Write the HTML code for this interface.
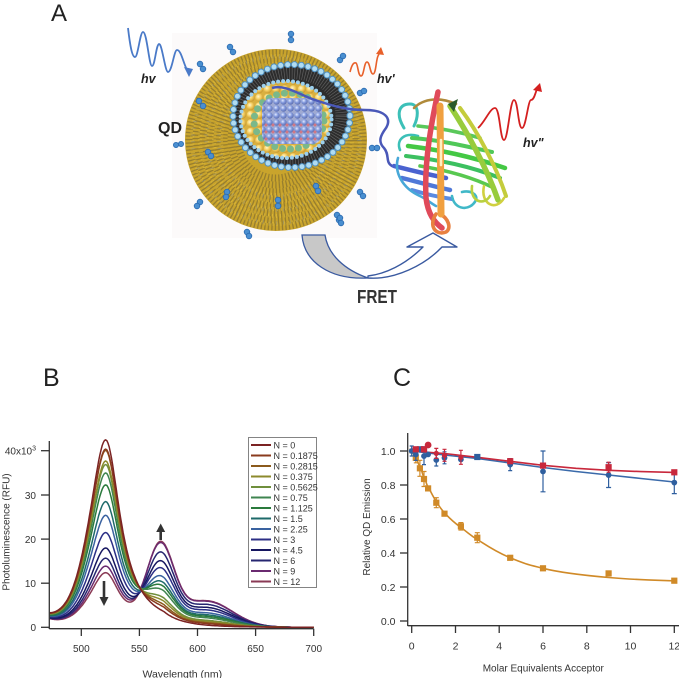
<!DOCTYPE html>
<html><head><meta charset="utf-8"><style>
html,body{margin:0;padding:0;background:#fff;}
svg{display:block;}
text{font-family:"Liberation Sans",Arial,sans-serif;}
</style></head><body>
<svg width="679" height="678" viewBox="0 0 679 678" xmlns="http://www.w3.org/2000/svg">
<defs>
<radialGradient id="yg" cx=".38" cy=".35" r=".65"><stop offset="0" stop-color="#fff6cc"/><stop offset=".5" stop-color="#f5cf62"/><stop offset="1" stop-color="#c99a30"/></radialGradient>
<radialGradient id="bgr" cx=".38" cy=".35" r=".65"><stop offset="0" stop-color="#dde6ff"/><stop offset=".5" stop-color="#6a86d8"/><stop offset="1" stop-color="#3a50a0"/></radialGradient>
<pattern id="yel" width="8.5" height="8.5" patternUnits="userSpaceOnUse"><rect width="8.5" height="8.5" fill="#d9b040"/><circle cx="4.25" cy="4.25" r="4" fill="url(#yg)"/></pattern>
<pattern id="blu" width="7" height="7" patternUnits="userSpaceOnUse"><rect width="7" height="7" fill="#8a98c8"/><circle cx="3.5" cy="3.5" r="3.2" fill="url(#bgr)"/></pattern>
</defs>

<!-- ================= PANEL A ================= -->
<text x="51" y="21" font-size="24" fill="#222">A</text>
<rect x="172" y="33" width="205" height="205" fill="#fcfafa"/>

<!-- golden sphere -->
<circle cx="276" cy="140" r="91" fill="#c9a42c"/>
<g fill="none">
<g stroke="#6f6030" stroke-width="7" stroke-dasharray="1.3 2.2" opacity=".55">
<circle cx="276" cy="140" r="87"/><circle cx="276" cy="140" r="80"/><circle cx="276" cy="140" r="73"/><circle cx="276" cy="140" r="66"/><circle cx="276" cy="140" r="59"/><circle cx="276" cy="140" r="52"/><circle cx="276" cy="140" r="45"/><circle cx="276" cy="140" r="38"/>
</g>
<g stroke="#e8c440" stroke-width="4" stroke-dasharray="1 3" stroke-dashoffset="1.6" opacity=".5">
<circle cx="276" cy="140" r="84"/><circle cx="276" cy="140" r="76"/><circle cx="276" cy="140" r="69"/><circle cx="276" cy="140" r="62"/><circle cx="276" cy="140" r="55"/>
</g>
<g stroke="#7a8aa0" stroke-width="4" stroke-dasharray="0.8 6" opacity=".45">
<circle cx="276" cy="140" r="83"/><circle cx="276" cy="140" r="70"/><circle cx="276" cy="140" r="57"/>
</g>
</g>

<!-- ligands -->
<g stroke="#2a6ab0" stroke-width="0.8" fill="#4a8fd0">
<circle cx="291" cy="40" r="2.8"/><circle cx="291" cy="34" r="2.8"/>
<circle cx="233" cy="52" r="2.8"/><circle cx="230" cy="47" r="2.8"/>
<circle cx="203" cy="69" r="2.8"/><circle cx="200" cy="64" r="2.8"/>
<circle cx="199" cy="101" r="2.8"/><circle cx="203" cy="106" r="2.8"/>
<circle cx="176" cy="145" r="2.6"/><circle cx="181" cy="144" r="2.6"/>
<circle cx="208" cy="152" r="2.8"/><circle cx="211" cy="156" r="2.8"/>
<circle cx="200" cy="202" r="2.8"/><circle cx="197" cy="206" r="2.8"/>
<circle cx="247" cy="232" r="2.8"/><circle cx="249" cy="236" r="2.8"/>
<circle cx="278" cy="200" r="2.8"/><circle cx="278" cy="206" r="2.8"/>
<circle cx="316" cy="186" r="2.8"/><circle cx="318" cy="191" r="2.8"/>
<circle cx="337" cy="215" r="2.8"/><circle cx="339" cy="220" r="2.8"/>
<circle cx="227" cy="192" r="2.8"/><circle cx="226" cy="197" r="2.8"/>
<circle cx="340" cy="60" r="2.8"/><circle cx="343" cy="56" r="2.8"/>
<circle cx="360" cy="93" r="2.8"/><circle cx="364" cy="91" r="2.8"/>
<circle cx="372" cy="148" r="2.8"/><circle cx="377" cy="148" r="2.8"/>
<circle cx="360" cy="192" r="2.8"/><circle cx="363" cy="196" r="2.8"/>
<circle cx="340" cy="218" r="2.8"/><circle cx="341" cy="223" r="2.8"/>
</g>

<!-- dark hairy ring -->
<ellipse cx="291.5" cy="116" rx="57" ry="50" fill="#2c2c2c"/>
<ellipse cx="291.5" cy="116" rx="51" ry="44" fill="none" stroke="#a0a0a0" stroke-width="14" stroke-dasharray="0.7 2" opacity=".45"/>
<ellipse cx="291.5" cy="116" rx="58.5" ry="51.5" fill="none" stroke="#4f8fc0" stroke-width="7" stroke-dasharray="0 6.9" stroke-linecap="round"/>
<ellipse cx="291.5" cy="116" rx="58.5" ry="51.5" fill="none" stroke="#b0dcf2" stroke-width="5" stroke-dasharray="0 6.9" stroke-linecap="round"/>

<!-- core -->
<ellipse cx="286" cy="119.5" rx="45" ry="38" fill="url(#yel)"/>
<ellipse cx="286" cy="119.5" rx="45.5" ry="38.5" fill="none" stroke="#9cd0ee" stroke-width="4" stroke-dasharray="0 5" stroke-linecap="round"/>
<ellipse cx="289" cy="121" rx="35" ry="28" fill="none" stroke="#7ab88a" stroke-width="7" stroke-dasharray="0 8" stroke-linecap="round"/>
<rect x="262" y="98" width="60" height="46" rx="10" fill="url(#blu)"/>
<g stroke="#c85a6a" stroke-width="3" stroke-dasharray="0 7" stroke-linecap="round">
<line x1="266" y1="125" x2="318" y2="125"/><line x1="266" y1="132" x2="318" y2="132"/><line x1="266" y1="139" x2="316" y2="139"/>
</g>
<rect x="262" y="98" width="60" height="46" rx="10" fill="#ffffff" opacity=".18"/>

<!-- linker -->
<path d="M272,88 C285,84 300,95 315,100 C330,105 345,110 365,110 C385,110 392,118 386,128 C380,136 378,142 384,148 C390,155 385,162 392,166 C396,168 400,168 404,168" fill="none" stroke="#4a58b8" stroke-width="2.5"/>

<!-- protein -->
<g fill="none" stroke-linecap="round" stroke-linejoin="round">
<path d="M404,128 C396,115 398,104 410,104 C420,104 418,118 414,126" stroke="#3cc0b8" stroke-width="3"/>
<path d="M414,108 C424,98 440,97 456,104" stroke="#b08a3a" stroke-width="2.6"/>
<path d="M400,150 C396,140 404,132 418,136" stroke="#3cc0b8" stroke-width="2.6"/>
<path d="M394,166 C410,170 425,174 446,178" stroke="#4a62d0" stroke-width="4.5"/>
<path d="M402,178 C418,182 432,186 450,190" stroke="#4f78d8" stroke-width="4.5"/>
<path d="M412,190 C425,194 438,197 452,199" stroke="#5a8ae0" stroke-width="4"/>
<path d="M398,158 C394,172 402,188 420,196 C428,200 432,204 436,206" stroke="#48a8d8" stroke-width="2.6"/>
<path d="M408,146 C440,150 470,156 505,168" stroke="#44c844" stroke-width="4.5"/>
<path d="M412,138 C440,140 465,146 492,152" stroke="#50c858" stroke-width="4"/>
<path d="M406,156 C440,160 470,166 500,178" stroke="#3cc060" stroke-width="4"/>
<path d="M420,166 C445,170 470,176 494,188" stroke="#58c850" stroke-width="3.6"/>
<path d="M418,126 C440,128 460,132 480,138" stroke="#5ac85a" stroke-width="3.6"/>
<path d="M452,196 C454,210 470,212 476,200 C478,194 470,190 462,192" stroke="#40b8c8" stroke-width="2.6"/>
<path d="M450,106 C466,130 486,166 498,200" stroke="#98cc3c" stroke-width="5.5"/>
<path d="M460,108 C478,132 496,166 506,196" stroke="#c4cc3c" stroke-width="4"/>
<path d="M484,186 C480,204 496,212 504,198" stroke="#d0d040" stroke-width="2.6"/>
<path d="M472,186 C470,202 484,206 490,196" stroke="#b8d040" stroke-width="2.6"/>
<path d="M438,92 C432,120 424,160 426,198 C428,214 434,222 442,228" stroke="#e04a5a" stroke-width="5.5"/>
<path d="M436,214 C428,226 436,236 446,232 C452,228 448,218 440,214" stroke="#e88040" stroke-width="3.6"/>
<path d="M440,106 L441,214" stroke="#f0a040" stroke-width="7"/>
<path d="M441,140 L441,165" stroke="#fff0c0" stroke-width="2.6"/>
</g>
<polygon points="448,104 458,99 454,112" fill="#2a5a2a"/>

<!-- waves -->
<path d="M128,28 C130,45 132,57 135,57 C138,57 140,32 143,32 C147,32 149,66 152,66 C155,66 156,45 159,44 C162,43 165,72 168,72 C172,72 174,50 177,50 C181,50 183,62 187,70" fill="none" stroke="#4a7ac8" stroke-width="1.8"/>
<polygon points="184,67 193,69 189,77" fill="#4a7ac8"/>
<path d="M350,72 C352,64 354,62 356,63 C358,64 358,76 361,76 C364,76 364,62 367,62 C370,62 370,74 373,74 C376,74 376,60 378,56 L380,52" fill="none" stroke="#e8602a" stroke-width="1.6"/>
<polygon points="376,54 384,55 381,47" fill="#e8602a"/>
<path d="M478,128 C485,122 490,108 495,108 C500,108 500,140 504,140 C508,140 510,100 514,100 C518,100 518,128 522,128 C526,128 528,100 531,100 C534,100 535,94 537,89" fill="none" stroke="#d42020" stroke-width="1.8"/>
<polygon points="533,90 542,92 540,83" fill="#d42020"/>

<text x="141" y="83" font-size="12.5" font-weight="bold" font-style="italic" fill="#222">hv</text>
<text x="377" y="83" font-size="12.5" font-weight="bold" font-style="italic" fill="#222">hv'</text>
<text x="523" y="147" font-size="12.5" font-weight="bold" font-style="italic" fill="#222">hv"</text>
<text x="158" y="133" font-size="16" font-weight="bold" fill="#222" textLength="24" lengthAdjust="spacingAndGlyphs">QD</text>

<!-- FRET arrow -->
<path d="M302,235 C304,262 330,280 368,278 C345,270 328,255 325,235 Z" fill="#c8c8c8" stroke="#3a5aa0" stroke-width="1.3"/>
<path d="M368,278 C395,280 425,265 442,247 L457,247 L433,233 L407,247 L423,247 C405,265 385,274 368,276 Z" fill="#ffffff" stroke="#3a5aa0" stroke-width="1.4" stroke-linejoin="round"/>
<text x="357" y="303" font-size="18" font-weight="bold" fill="#333" textLength="40" lengthAdjust="spacingAndGlyphs">FRET</text>

<!-- ================= PANEL B ================= -->
<text x="43" y="386" font-size="25" fill="#222">B</text>
<g fill="none" stroke-width="1.5" id="curves"></g>

<g stroke="#333" stroke-width="1.3" fill="none">
<line x1="49.3" y1="441" x2="49.3" y2="629"/>
<line x1="49.3" y1="628.7" x2="313.7" y2="628.7"/>
<line x1="41" y1="627.3" x2="49.3" y2="627.3"/>
<line x1="41" y1="583.2" x2="49.3" y2="583.2"/>
<line x1="41" y1="539.1" x2="49.3" y2="539.1"/>
<line x1="41" y1="495" x2="49.3" y2="495"/>
<line x1="41" y1="450.7" x2="49.3" y2="450.7"/>
<line x1="81.3" y1="628.7" x2="81.3" y2="636"/>
<line x1="139.4" y1="628.7" x2="139.4" y2="636"/>
<line x1="197.5" y1="628.7" x2="197.5" y2="636"/>
<line x1="255.6" y1="628.7" x2="255.6" y2="636"/>
<line x1="313.7" y1="628.7" x2="313.7" y2="636"/>
</g>
<g font-size="10" fill="#333" text-anchor="end">
<text x="36" y="631">0</text>
<text x="36" y="587">10</text>
<text x="36" y="543">20</text>
<text x="36" y="499">30</text>
<text x="36" y="454.5">40x10<tspan dy="-4" font-size="7">3</tspan></text>
</g>
<g font-size="10" fill="#333" text-anchor="middle">
<text x="81.3" y="652">500</text>
<text x="139.4" y="652">550</text>
<text x="197.5" y="652">600</text>
<text x="255.6" y="652">650</text>
<text x="313.7" y="652">700</text>
<text x="182.3" y="677.5" font-size="10.5">Wavelength (nm)</text>
<text transform="translate(9.5,532) rotate(-90)" font-size="10">Photoluminescence (RFU)</text>
</g>

<!-- arrows -->
<line x1="104" y1="581" x2="104" y2="599" stroke="#333" stroke-width="2.6"/>
<polygon points="99.5,597 108.5,597 104,606" fill="#333"/>
<line x1="160.7" y1="531" x2="160.7" y2="540" stroke="#333" stroke-width="2.6"/>
<polygon points="156.2,532 165.2,532 160.7,523.5" fill="#333"/>

<!-- legend -->
<rect x="248.5" y="437.5" width="68" height="150" fill="#fff" stroke="#666" stroke-width="0.8"/>
<g stroke-width="2">
<line x1="251" y1="445" x2="271" y2="445" stroke="#7b2323"/>
<line x1="251" y1="455.5" x2="271" y2="455.5" stroke="#8a3b1e"/>
<line x1="251" y1="466" x2="271" y2="466" stroke="#8b5a1c"/>
<line x1="251" y1="476.5" x2="271" y2="476.5" stroke="#8c8a2c"/>
<line x1="251" y1="487" x2="271" y2="487" stroke="#6f8f3c"/>
<line x1="251" y1="497.5" x2="271" y2="497.5" stroke="#3f8550"/>
<line x1="251" y1="508" x2="271" y2="508" stroke="#2a7a3c"/>
<line x1="251" y1="518.5" x2="271" y2="518.5" stroke="#1e6a6a"/>
<line x1="251" y1="529" x2="271" y2="529" stroke="#3a62a0"/>
<line x1="251" y1="539.5" x2="271" y2="539.5" stroke="#2c2f86"/>
<line x1="251" y1="550" x2="271" y2="550" stroke="#161660"/>
<line x1="251" y1="560.5" x2="271" y2="560.5" stroke="#262670"/>
<line x1="251" y1="571" x2="271" y2="571" stroke="#6a2a70"/>
<line x1="251" y1="581.5" x2="271" y2="581.5" stroke="#8a3a55"/>
</g>
<g font-size="9" fill="#333">
<text x="273.5" y="448.3">N = 0</text>
<text x="273.5" y="458.8">N = 0.1875</text>
<text x="273.5" y="469.3">N = 0.2815</text>
<text x="273.5" y="479.8">N = 0.375</text>
<text x="273.5" y="490.3">N = 0.5625</text>
<text x="273.5" y="500.8">N = 0.75</text>
<text x="273.5" y="511.3">N = 1.125</text>
<text x="273.5" y="521.8">N = 1.5</text>
<text x="273.5" y="532.3">N = 2.25</text>
<text x="273.5" y="542.8">N = 3</text>
<text x="273.5" y="553.3">N = 4.5</text>
<text x="273.5" y="563.8">N = 6</text>
<text x="273.5" y="574.3">N = 9</text>
<text x="273.5" y="584.8">N = 12</text>
</g>

<!-- ================= PANEL C ================= -->
<text x="393" y="386" font-size="25" fill="#222">C</text>
<g stroke="#333" stroke-width="1.3" fill="none">
<line x1="407.7" y1="433" x2="407.7" y2="626"/>
<line x1="407.7" y1="625.7" x2="679" y2="625.7"/>
<line x1="400" y1="451" x2="407.7" y2="451"/>
<line x1="400" y1="485" x2="407.7" y2="485"/>
<line x1="400" y1="519" x2="407.7" y2="519"/>
<line x1="400" y1="553" x2="407.7" y2="553"/>
<line x1="400" y1="587" x2="407.7" y2="587"/>
<line x1="400" y1="621" x2="407.7" y2="621"/>
<line x1="411.7" y1="625.7" x2="411.7" y2="633"/>
<line x1="455.5" y1="625.7" x2="455.5" y2="633"/>
<line x1="499.2" y1="625.7" x2="499.2" y2="633"/>
<line x1="543" y1="625.7" x2="543" y2="633"/>
<line x1="586.8" y1="625.7" x2="586.8" y2="633"/>
<line x1="630.5" y1="625.7" x2="630.5" y2="633"/>
<line x1="674.3" y1="625.7" x2="674.3" y2="633"/>
</g>
<g font-size="10.5" fill="#333" text-anchor="end">
<text x="395.5" y="454.8">1.0</text>
<text x="395.5" y="488.8">0.8</text>
<text x="395.5" y="522.8">0.6</text>
<text x="395.5" y="556.8">0.4</text>
<text x="395.5" y="590.8">0.2</text>
<text x="395.5" y="624.8">0.0</text>
</g>
<g font-size="10.5" fill="#333" text-anchor="middle">
<text x="411.7" y="649.5">0</text>
<text x="455.5" y="649.5">2</text>
<text x="499.2" y="649.5">4</text>
<text x="543" y="649.5">6</text>
<text x="586.8" y="649.5">8</text>
<text x="630.5" y="649.5">10</text>
<text x="674.3" y="649.5">12</text>
<text x="543.3" y="671.5" font-size="10">Molar Equivalents Acceptor</text>
<text transform="translate(370,527) rotate(-90)" font-size="10">Relative QD Emission</text>
</g>

<!-- fit curves -->
<path d="M411.7,451 C413,453 414,455 415.8,457.5 S418,464 419.9,466.5 S422,474 424,477 S426,484 428.1,487 S432,495 436.3,501.5 S440,508 444.5,512.8 S452,521 460.9,527.5 S470,535 477.3,539.5 S494,551 510.2,557.8 S530,565 543,568.3 S580,575 608.6,577.5 S650,580 674.3,580.8" fill="none" stroke="#d08a28" stroke-width="1.6"/>
<polyline points="411.7,451 444.5,455 477.3,458.5 510.2,463 543,467.5 576,471.5 608.6,475 641,478.5 674.3,482" fill="none" stroke="#3a6aaa" stroke-width="1.6"/>
<polyline points="411.7,451 444.5,453.5 477.3,457.3 510.2,461.3 543,465.3 576,468.3 608.6,470.3 641,471.6 674.3,472.4" fill="none" stroke="#c8283c" stroke-width="1.6"/>

<!-- orange markers -->
<g stroke="#d08a28" stroke-width="1.2" fill="#d08a28">
<path d="M415.8,452.8V462.8M413.8,452.8H417.8M413.8,462.8H417.8"/>
<path d="M419.9,460.3V476.3M417.4,460.3H422.4M417.4,476.3H422.4"/>
<path d="M424,471.5V486.5M421.5,471.5H426.5M421.5,486.5H426.5"/>
<path d="M436.3,497.7V507.7M433.8,497.7H438.8M433.8,507.7H438.8"/>
<path d="M460.9,522.6V530M458.4,522.6H463.4M458.4,530H463.4"/>
<path d="M477.3,532.7V542.7M474.8,532.7H479.8M474.8,542.7H479.8"/>
<rect x="413.3" y="455.3" width="5" height="5"/>
<rect x="417.4" y="465.8" width="5" height="5"/>
<rect x="421.5" y="476.5" width="5" height="5"/>
<rect x="425.6" y="485.9" width="5" height="5"/>
<rect x="433.8" y="500.2" width="5" height="5"/>
<rect x="442" y="511.2" width="5" height="5"/>
<rect x="458.4" y="523.8" width="5" height="5"/>
<rect x="474.8" y="535.2" width="5" height="5"/>
<rect x="507.7" y="555.3" width="5" height="5"/>
<rect x="540.5" y="565.8" width="5" height="5"/>
<rect x="606.1" y="570.9" width="5" height="5"/>
<rect x="671.8" y="578.2" width="5" height="5"/>
</g>
<rect x="409.2" y="448.5" width="5" height="5" fill="#c8a878"/>

<!-- blue markers -->
<g stroke="#2f5f9f" stroke-width="1.2" fill="#2f5f9f">
<path d="M411.7,446V456M409.7,446H413.7M409.7,456H413.7"/>
<path d="M415.8,448.4V460.4M413.8,448.4H417.8M413.8,460.4H417.8"/>
<path d="M424,447.6V464.6M422,447.6H426M422,464.6H426"/>
<path d="M436.3,454V466M434.3,454H438.3M434.3,466H438.3"/>
<path d="M444.5,451.8V463.8M442.5,451.8H446.5M442.5,463.8H446.5"/>
<path d="M510.2,458.6V470.6M508.2,458.6H512.2M508.2,470.6H512.2"/>
<path d="M543,451V491.8M540.5,451H545.5M540.5,491.8H545.5"/>
<path d="M608.6,462.7V487.5M606.1,462.7H611.1M606.1,487.5H611.1"/>
<path d="M674.3,471.6V493.6M671.8,471.6H676.8M671.8,493.6H676.8"/>
<circle cx="411.7" cy="451" r="2.3"/>
<circle cx="415.8" cy="454.4" r="2.3"/>
<rect x="417.4" y="446.8" width="5" height="5"/>
<rect x="421.5" y="446.8" width="5" height="5"/>
<circle cx="424" cy="456.1" r="2.3"/>
<circle cx="428.1" cy="454.4" r="2.3"/>
<circle cx="436.3" cy="460" r="2.3"/>
<circle cx="444.5" cy="457.8" r="2.3"/>
<circle cx="460.9" cy="459.5" r="2.3"/>
<rect x="474.8" y="454.5" width="5" height="5"/>
<circle cx="510.2" cy="464.6" r="2.3"/>
<circle cx="543" cy="471.4" r="2.3"/>
<circle cx="608.6" cy="475.1" r="2.3"/>
<circle cx="674.3" cy="482.6" r="2.3"/>
</g>

<!-- red markers -->
<g stroke="#c8283c" stroke-width="1.2" fill="#c8283c">
<path d="M436.3,448.4V458.4M434.3,448.4H438.3M434.3,458.4H438.3"/>
<path d="M444.5,449.3V461.3M442.5,449.3H446.5M442.5,461.3H446.5"/>
<path d="M460.9,450.3V464.3M458.9,450.3H462.9M458.9,464.3H462.9"/>
<path d="M608.6,462.2V472.2M606.6,462.2H610.6M606.6,472.2H610.6"/>
<rect x="413.3" y="446.8" width="5" height="5"/>
<rect x="421.5" y="446.8" width="5" height="5"/>
<circle cx="428.1" cy="445" r="2.8"/>
<circle cx="436.3" cy="453.4" r="2"/>
<circle cx="444.5" cy="455.3" r="2"/>
<circle cx="460.9" cy="457.3" r="2"/>
<rect x="507.7" y="458.7" width="5" height="5"/>
<rect x="540.5" y="463.1" width="5" height="5"/>
<rect x="606.1" y="464.7" width="5" height="5"/>
<rect x="671.8" y="469.8" width="5" height="5"/>
</g>
</svg>
<script>
(function(){
var Q=[42.4,40.3,40.0,37.6,36.8,34.9,32.2,28.4,25.3,21.4,17.9,15.6,13.8,12.3];
var A=[0,1.2,1.8,2.8,3.6,5.4,6.6,7.8,9.3,11.5,13.4,15.6,17.9,18.3];
var C=["#7b2323","#8a3b1e","#8b5a1c","#8c8a2c","#6f8f3c","#3f8550","#2a7a3c","#1e6a6a","#3a62a0","#2c2f86","#161660","#262670","#6a2a70","#8a3a55"];
function qd(l){var d=l-521;if(d<0){return 0.5/(1+(d/14)*(d/14))+0.5*Math.exp(-d*d/512);}var f=1/(1+(d/15.2)*(d/15.2));if(d>50)f*=Math.exp(-(d-50)/40);return f;}
function ac(l){var d=l-568;var g=Math.exp(-d*d/269.1);var e=l-608;g+=0.34*Math.exp(-e*e/968);return g/1.065;}
function bs(l){return 1.4*Math.exp(-(l-473)/15);}
var g=document.getElementById('curves');
for(var i=13;i>=0;i--){var p='';for(var l=473;l<=700;l+=1){var v=Q[i]*qd(l)+A[i]*ac(l)+bs(l);var x=81.3+(l-500)*1.162;var y=627.3-v*4.415;p+=(l==473?'M':'L')+x.toFixed(1)+','+y.toFixed(1);}
var el=document.createElementNS('http://www.w3.org/2000/svg','path');el.setAttribute('d',p);el.setAttribute('stroke',C[i]);g.appendChild(el);}
})();
</script>
</body></html>
